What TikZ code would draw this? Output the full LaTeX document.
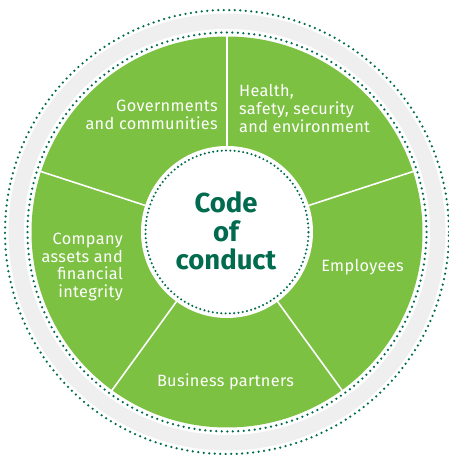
\documentclass[tikz,border=0pt]{standalone}
\usepackage{fontspec}
\setmainfont{Fira Sans}
\newfontfamily\spacedfont{Fira Sans}[LetterSpace=2]
\definecolor{leaf}{HTML}{7CC142}
\definecolor{pine}{HTML}{006B4E}
\definecolor{band}{HTML}{EFEFEF}
\tikzset{
  dotring/.style={draw=pine, line width=2.5pt, line cap=round, dash pattern=on 0pt off 5.5pt},
  smalldots/.style={draw=pine, line width=2.3pt, line cap=round, dash pattern=on 0pt off 4.3pt},
  divider/.style={draw=white, line width=1.6pt},
  seclabel/.style={text=white, font=\spacedfont\fontsize{16.3}{18}\selectfont, inner sep=0pt},
  hub/.style={text=pine, font=\bfseries\fontsize{27.5}{28.5}\selectfont, align=center, inner sep=0pt}
}
\begin{document}
\begin{tikzpicture}[x=1pt,y=1pt]
\useasboundingbox (0,0) rectangle (449,455);
\coordinate (c) at (227,223);
% outer rings
\draw[dotring] (c) circle (222);
\fill[band] (c) circle (218.5);
\fill[white] (c) circle (203);
\draw[dotring] (c) circle (199.5);
\fill[leaf] (c) circle (195.5);
% sector dividers
\foreach \a in {18,90,162,234,306}
  \draw[divider] (c) -- ++(\a:196);
% hub
\fill[white] (c) circle (86);
\draw[smalldots] (c) circle (81.5);
% labels
\node[seclabel, anchor=east, align=right] (gov) at (218,340) {Governments\\and communities};
\node[seclabel, anchor=west, align=left] (hse) at (239,347) {Health,\\safety, security\\and environment};
\node[seclabel, anchor=east, align=right, font=\spacedfont\fontsize{16.3}{17.5}\selectfont] (assets) at (123,188) {Company\\assets and\\financial\\integrity};
\node[seclabel] (emp) at (362.5,188) {Employees};
\node[seclabel] (bp) at (225.5,73) {Business partners};
\node[hub] (code) at (226,224) {Code\\of\\conduct};
\end{tikzpicture}
\end{document}
